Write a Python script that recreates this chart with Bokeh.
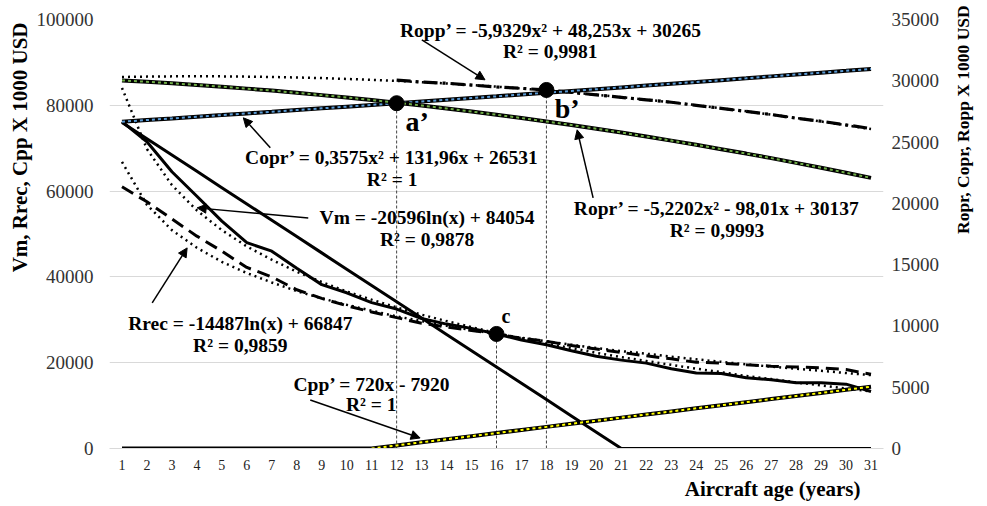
from bokeh.plotting import figure
from bokeh.models import (Range1d, LinearAxis, FixedTicker, Label, Arrow, NormalHead,
                          PrintfTickFormatter, Title, Axis)
from bokeh.embed import file_html
from bokeh.resources import INLINE

# ---------------- data ----------------
age = list(range(1, 32))
age_ticks = list(range(1, 32))
left_ticks = [0, 20000, 40000, 60000, 80000, 100000]
right_ticks = [0, 5000, 10000, 15000, 20000, 25000, 30000, 35000]

# market value Vm (left axis)
vm = [76200, 71500, 64500, 58800, 53000, 48000, 46000, 42000, 38200, 36300, 34000,
      32500, 30300, 29000, 28000, 26700, 25300, 24200, 22800, 21500, 20600, 19900,
      18600, 17600, 17500, 16500, 16000, 15300, 15300, 15000, 13300]
vm_trend = [84050, 69800, 61400, 55500, 50900, 47100, 44000, 41200, 38800, 36600, 34700,
            32900, 31200, 29700, 28300, 26900, 25700, 24500, 23400, 22300, 21300, 20400,
            19500, 18600, 17800, 16900, 16200, 15400, 14700, 14000, 13300]
# straight-line value (left axis)
vm_linear = [76000, 72200, 68400, 64600, 60800, 57000, 53200, 49400, 45600, 41800, 38000,
             34200, 30400, 26600, 22800, 19000, 15200, 11400, 7600, 3800, 0,
             0, 0, 0, 0, 0, 0, 0, 0, 0, 0]
# Rrec (left axis)
rrec = [61000, 57500, 53500, 49500, 46000, 42200, 40000, 37000, 35000, 33300, 31800,
        30500, 29200, 28300, 27500, 26700, 25700, 25000, 24000, 23200, 22400, 21600,
        20900, 20100, 19900, 19500, 19200, 19000, 18800, 18400, 17300]
rrec_trend = [66800, 56800, 50900, 46800, 43500, 40900, 38700, 36700, 35000, 33500, 32100,
              30800, 29700, 28600, 27600, 26700, 25800, 25000, 24200, 23400, 22700, 22100,
              21400, 20800, 20200, 19600, 19100, 18600, 18100, 17600, 17100]
# Cpp (left axis)
cpp = [0, 0, 0, 0, 0, 0, 0, 0, 0, 0, 0,
       720, 1440, 2160, 2880, 3600, 4320, 5040, 5760, 6480, 7200, 7920,
       8640, 9360, 10080, 10800, 11520, 12240, 12960, 13680, 14400]
cpp_trend_age = list(range(11, 32))
cpp_trend = [0, 720, 1440, 2160, 2880, 3600, 4320, 5040, 5760, 6480, 7200, 7920,
             8640, 9360, 10080, 10800, 11520, 12240, 12960, 13680, 14400]
# Copr (right axis)
copr = [26660, 26800, 26930, 27070, 27200, 27340, 27470, 27610, 27750, 27890, 28030,
        28170, 28310, 28450, 28590, 28730, 28880, 29020, 29170, 29310, 29460, 29610,
        29760, 29900, 30050, 30200, 30360, 30510, 30660, 30810, 30970]
# Ropr (right axis)
ropr = [30030, 29920, 29800, 29660, 29520, 29360, 29200, 29020, 28830, 28640, 28430,
        28210, 27980, 27740, 27490, 27230, 26960, 26680, 26390, 26090, 25780, 25450,
        25120, 24780, 24420, 24060, 23690, 23300, 22910, 22500, 22080]
# Ropp (right axis)
ropp_age = list(range(12, 32))
ropp = [30050, 29900, 29800, 29650, 29500, 29380, 29250, 29050, 28850, 28650, 28450,
        28250, 28000, 27750, 27500, 27250, 26950, 26700, 26400, 26100]
ropp_trend = [30310, 30340, 30360, 30360, 30360, 30340, 30310, 30270, 30220, 30150, 30080,
              29990, 29890, 29780, 29650, 29520, 29370, 29210, 29040, 28860, 28660, 28460,
              28240, 28010, 27760, 27510, 27240, 26970, 26680, 26370, 26060]

# ---------------- figure ----------------
SERIF = "Liberation Serif"
p = figure(width=987, height=506, x_range=Range1d(0.5, 31.5), y_range=Range1d(0, 100000),
           output_backend="svg", toolbar_location=None,
           min_border_left=109, min_border_right=104, min_border_top=19, min_border_bottom=58)
p.outline_line_color = None
p.background_fill_color = "white"
p.extra_y_ranges = {"right": Range1d(0, 35000)}

p.xgrid.visible = False
p.ygrid.ticker = FixedTicker(ticks=left_ticks)
p.ygrid.grid_line_color = "#d9d9d9"

def style_axis(ax, size, standoff):
    ax.major_label_text_font = SERIF
    ax.major_label_text_font_size = size
    ax.major_label_text_color = "#333333"
    ax.major_tick_out = 0
    ax.major_tick_in = 0
    ax.minor_tick_out = 0
    ax.minor_tick_in = 0
    ax.major_label_standoff = standoff

xa = p.xaxis[0]
xa.ticker = FixedTicker(ticks=age_ticks)
style_axis(xa, "14px", 11)
xa.major_label_text_color = "#222222"
xa.axis_line_color = "#d9d9d9"

ya = p.yaxis[0]
ya.ticker = FixedTicker(ticks=left_ticks)
ya.formatter = PrintfTickFormatter(format="%d")
style_axis(ya, "19px", 16)
ya.axis_line_color = None

ra = LinearAxis(y_range_name="right", ticker=FixedTicker(ticks=right_ticks),
                formatter=PrintfTickFormatter(format="%d"))
style_axis(ra, "19px", 8)
ra.axis_line_color = None

props = Axis.properties()
right_title_done = False
if "axis_label_orientation" in props:
    ra.axis_label = "Ropr, Copr, Ropp X 1000 USD"
    ra.axis_label_text_font = SERIF
    ra.axis_label_text_font_size = "17.5px"
    ra.axis_label_text_font_style = "bold"
    ra.axis_label_text_color = "black"
    ra.axis_label_standoff = 21
    ra.axis_label_orientation = 1.5708   # read bottom-to-top, as in the reference
    right_title_done = True
p.add_layout(ra, "right")

# axis titles as side-panel titles
p.add_layout(Title(text="Vm, Rrec, Cpp X 1000 USD", align="right", offset=3, standoff=4,
                   text_font=SERIF, text_font_size="21px", text_font_style="bold",
                   text_color="black"), "left")
p.add_layout(Title(text="Aircraft age (years)", align="right", offset=23, standoff=4,
                   text_font=SERIF, text_font_size="21px", text_font_style="bold",
                   text_color="black"), "below")
if not right_title_done:
    p.add_layout(Title(text="Ropr, Copr, Ropp X 1000 USD", align="left", offset=14, standoff=4,
                       text_font=SERIF, text_font_size="17.5px", text_font_style="bold",
                       text_color="black"), "right")

# ---------------- guide lines ----------------
guide = dict(line_color="#444444", line_width=1, line_dash="3 2")
p.segment(x0=[12], y0=[0], x1=[12], y1=[copr[11]], y_range_name="right", **guide)
p.segment(x0=[18], y0=[0], x1=[18], y1=[ropp[6]], y_range_name="right", **guide)
p.segment(x0=[16], y0=[0], x1=[16], y1=[vm[15]], **guide)

# ---------------- series ----------------
p.line(age, vm_trend, line_color="black", line_width=2.5, line_dash="2 4")
p.line(age, rrec_trend, line_color="black", line_width=2.5, line_dash="2 4")
p.line(age, ropp_trend, line_color="black", line_width=2.5, line_dash="2 4", y_range_name="right")

p.line(age, vm_linear, line_color="black", line_width=3)
p.line(age, vm, line_color="black", line_width=3)
p.line(age, rrec, line_color="black", line_width=3, line_dash="13 7")
p.line(ropp_age, ropp, line_color="black", line_width=3.2, line_dash="14 5 3 5", y_range_name="right")

p.line(age, copr, line_color="black", line_width=4, y_range_name="right")
p.line(age, copr, line_color="#5b9bd5", line_width=2, line_dash="3 3", y_range_name="right")
p.line(age, ropr, line_color="black", line_width=4, y_range_name="right")
p.line(age, ropr, line_color="#70ad47", line_width=2, line_dash="3 3", y_range_name="right")
p.line(age, cpp, line_color="black", line_width=4)
p.line(cpp_trend_age, cpp_trend, line_color="#ffff00", line_width=2, line_dash="3 3")

p.scatter([12], [copr[11]], size=15, color="black", y_range_name="right")
p.scatter([18], [ropp[6]], size=15, color="black", y_range_name="right")
p.scatter([16], [vm[15]], size=15, color="black")

# ---------------- annotations ----------------
def lab(x, y, t, size="19.5px"):
    p.add_layout(Label(x=x, y=y, text=t, text_font=SERIF, text_font_size=size,
                       text_font_style="bold", text_align="center", text_baseline="middle",
                       text_color="black"))

lab(18.19, 97480, "Ropp’ = -5,9329x² + 48,253x + 30265")
lab(18.15, 92470, "R² = 0,9981")
lab(11.82, 67750, "Copr’ = 0,3575x² + 131,96x + 26531")
lab(11.82, 62620, "R² = 1")
lab(13.22, 53750, "Vm = -20596ln(x) + 84054")
lab(13.22, 48620, "R² = 0,9878")
lab(5.74, 29030, "Rrec = -14487ln(x) + 66847")
lab(5.74, 23900, "R² = 0,9859")
lab(11.02, 14810, "Cpp’ = 720x - 7920")
lab(10.98, 10140, "R² = 1")
lab(24.83, 55850, "Ropr’ = -5,2202x² - 98,01x + 30137")
lab(24.83, 50720, "R² = 0,9993")
lab(12.82, 76140, "a’", size="28px")
lab(18.83, 79170, "b’", size="28px")
lab(16.38, 30900, "c", size="20px")

def arrow(x0, y0, x1, y1):
    p.add_layout(Arrow(end=NormalHead(size=9, fill_color="black", line_color="black"),
                       x_start=x0, y_start=y0, x_end=x1, y_end=y1,
                       line_color="black", line_width=1.5))

arrow(13.01, 95270, 15.54, 85940)   # Ropp
arrow(6.94, 70080, 5.86, 77080)     # Copr
arrow(8.46, 53750, 4.01, 56090)     # Vm
arrow(2.21, 33930, 3.61, 46760)     # Rrec
arrow(8.54, 11310, 12.94, 2450)     # Cpp
arrow(19.87, 58420, 19.23, 74280)   # Ropr

open("out.html", "w").write(file_html(p, INLINE))
